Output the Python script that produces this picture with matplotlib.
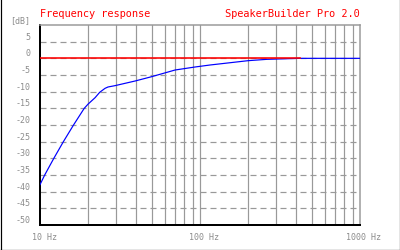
import numpy as np
import matplotlib
matplotlib.use("Agg")
import matplotlib.pyplot as plt
import matplotlib.transforms as mtransforms
from matplotlib.lines import Line2D

# response
freq = [10, 10.7, 12.2, 14.0, 16.2, 18.9, 20.0, 22.1, 23.6, 25.5, 26.6, 29.4,
        39.3, 49.9, 69.9, 93.1, 115.5, 200, 262, 422, 1000]
level = [-37.9, -35, -30, -25, -20, -15, -13.7, -11.8, -10.2, -9.0, -8.6, -8.2,
         -6.8, -5.5, -3.5, -2.6, -2.0, -0.7, -0.3, 0.0, 0.0]
ref_freq = [10, 422]
ref_level = [0, 0]

yticks = [10, 5, 0, -5, -10, -15, -20, -25, -30, -35, -40, -45, -50]
ylabels = ["[dB]"] + [str(v) for v in yticks[1:]]
xticks = [10, 100, 1000]
xlabels = ["10 Hz", "100 Hz", "1000 Hz"]

grey = "#999999"
txtgrey = "#8c8c8c"
px = 72 / 100  # one pixel in points

plt.rcParams["font.family"] = ["DejaVu Sans Mono"]
plt.rcParams["lines.scale_dashes"] = False

fig = plt.figure(figsize=(4, 2.5), dpi=100)
ax = fig.add_axes([0.1, 0.1, 0.8, 0.8])
ax.set_xscale("log")
ax.set_xlim(10, 1000)
ax.set_ylim(-50, 10)

# grid
for dec in (10, 100):
    for m in range(2, 10):
        ax.axvline(dec * m, color=grey, lw=1.2 * px, zorder=1)
ax.axvline(100, color=grey, lw=1.2 * px, zorder=1)
for v in yticks[1:-1]:
    ax.axhline(v, color=grey, lw=1.2 * px, dashes=(6 * px, 4 * px), zorder=1)

ax.plot(freq, level, color="#0000ff", lw=1.2 * px, zorder=3)
ax.plot(ref_freq, ref_level, color="#ff0000", lw=1.6 * px, zorder=4)

for s in ("top", "right"):
    ax.spines[s].set_color(grey)
    ax.spines[s].set_linewidth(1.5 * px)
for s in ("left", "bottom"):
    ax.spines[s].set_color("black")
    ax.spines[s].set_linewidth(2 * px)

ax.set_yticks(yticks)
ax.set_yticklabels(ylabels)
ax.set_xticks(xticks)
ax.set_xticklabels(xlabels)
ax.minorticks_off()
ax.tick_params(length=0, colors=txtgrey, labelsize=6)
ax.tick_params(axis="y", pad=7)
ax.tick_params(axis="x", pad=6)
for lab in ax.get_yticklabels():
    lab.set_va("bottom")
off = mtransforms.ScaledTranslation(4 / 100, 0, fig.dpi_scale_trans)
for lab in ax.get_xticklabels():
    lab.set_transform(lab.get_transform() + off)

fig.text(0.1, 0.945, "Frequency response", color="#ff0000", fontsize=7.4,
         ha="left", va="center")
fig.text(0.9, 0.945, "SpeakerBuilder Pro 2.0", color="#ff0000", fontsize=7.4,
         ha="right", va="center")

# outer frame
for xs, ys in (([0.5 / 400, 0.5 / 400], [0, 1]),
               ([399.5 / 400, 399.5 / 400], [0, 1]),
               ([0, 1], [0.5 / 250, 0.5 / 250])):
    fig.add_artist(Line2D(xs, ys, transform=fig.transFigure, color="black",
                          lw=1.2 * px))

fig.savefig("out.png", dpi=100)
